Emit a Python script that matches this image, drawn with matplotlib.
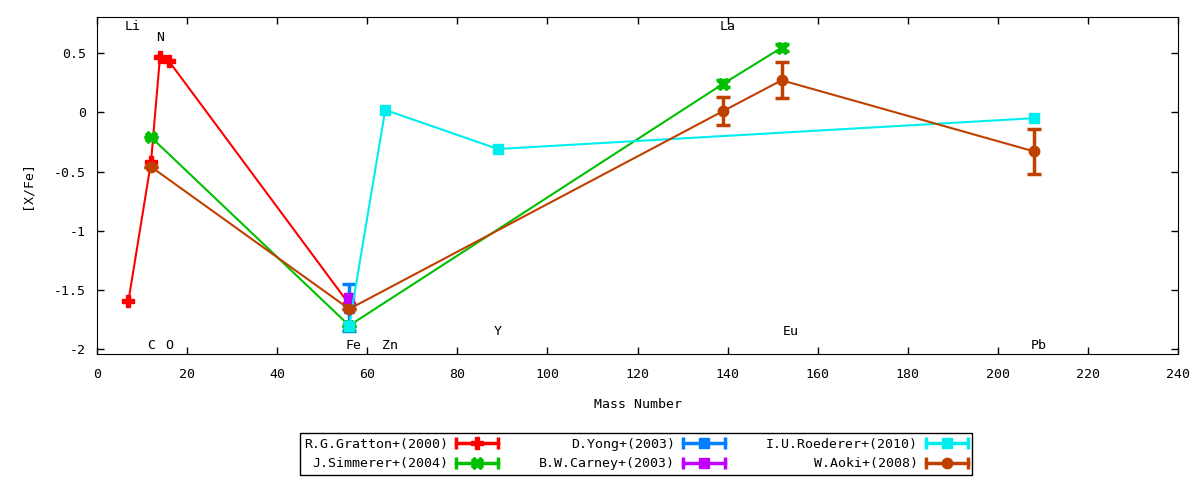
import matplotlib.pyplot as plt
from matplotlib.lines import Line2D
from matplotlib.legend_handler import HandlerBase

plt.rcParams['font.family'] = ['DejaVu Sans Mono']
plt.rcParams['font.size'] = 9.5

# mass number / [X/Fe] per reference
gratton_a = [7, 12, 14, 16, 56]
gratton_y = [-1.59, -0.42, 0.47, 0.43, -1.62]

simmerer_a = [12, 56, 139, 152]
simmerer_y = [-0.21, -1.80, 0.24, 0.545]
simmerer_err = [0.0, 0.0, 0.03, 0.03]

yong_a = [56]
yong_y = [-1.65]
yong_err = [0.2]

carney_a = [56]
carney_y = [-1.57]

roederer_a = [56, 64, 89, 208]
roederer_y = [-1.80, 0.02, -0.31, -0.05]

aoki_a = [12, 56, 139, 152, 208]
aoki_y = [-0.46, -1.66, 0.01, 0.27, -0.33]
aoki_err = [0.0, 0.0, 0.12, 0.15, 0.19]

elements = ['Li', 'N', 'C', 'O', 'Fe', 'Zn', 'Y', 'La', 'Eu', 'Pb']
elem_x = [8, 14, 12, 16, 57, 65, 89, 140, 154, 209]
elem_y = [0.725, 0.63, -1.965, -1.965, -1.965, -1.965, -1.85, 0.725, -1.85, -1.965]


class GnuHandler(HandlerBase):
    def create_artists(self, legend, orig, xd, yd, w, h, fontsize, trans):
        y = h / 2 - yd
        x0, x1 = -xd, -xd + w
        c = orig.get_color()
        line = Line2D([x0, x1], [y, y], color=c, lw=2.5)
        caps = Line2D([x0, x1], [y, y], ls='', marker='|', ms=8, mew=2.5, color=c)
        mark = Line2D([(x0 + x1) / 2], [y], ls='', marker=orig.get_marker(),
                      ms=orig.get_markersize(), mew=orig.get_markeredgewidth(), color=c)
        for a in (line, caps, mark):
            a.set_transform(trans)
        return [line, caps, mark]


fig = plt.figure(figsize=(12, 4.8), dpi=100)
ax = fig.add_axes([0.0808, 0.2625, 0.9009, 0.7021])

eb = dict(lw=1.5, capsize=5, elinewidth=2.5, capthick=2.5)

h1 = ax.errorbar(gratton_a, gratton_y, color='#ff0000', marker='P', ms=8, **eb)
h2 = ax.errorbar(simmerer_a, simmerer_y, yerr=simmerer_err, color='#00c000',
                 marker='X', ms=8, **eb)
h3 = ax.errorbar(yong_a, yong_y, yerr=yong_err, color='#0080ff', marker='s', ms=7.5, **eb)
h4 = ax.errorbar(carney_a, carney_y, color='#c000ff', marker='s', ms=7.5, **eb)
h5 = ax.errorbar(roederer_a, roederer_y, color='#00eeee', marker='s', ms=7.5, **eb)
h6 = ax.errorbar(aoki_a, aoki_y, yerr=aoki_err, color='#c04000', marker='o', ms=7.5, **eb)

for name, x, y in zip(elements, elem_x, elem_y):
    ax.text(x, y, name, ha='center', va='center')

ax.set_xlim(0, 240)
ax.set_ylim(-2.04, 0.804)
ax.set_xticks(range(0, 241, 20))
ax.set_yticks([-2, -1.5, -1, -0.5, 0, 0.5])
ax.set_yticklabels(['-2', '-1.5', '-1', '-0.5', '0', '0.5'])
ax.tick_params(direction='in', top=True, right=True, length=5, width=1)
ax.tick_params(axis='x', pad=10)
ax.tick_params(axis='y', pad=8)
ax.set_xlabel('Mass Number', labelpad=12)
ax.set_ylabel('[X/Fe]', labelpad=15)

labels = ['R.G.Gratton+(2000)', 'J.Simmerer+(2004)', 'D.Yong+(2003)',
          'B.W.Carney+(2003)', 'I.U.Roederer+(2010)', 'W.Aoki+(2008)']
handles = [h[0] for h in (h1, h2, h3, h4, h5, h6)]
leg = fig.legend(handles, labels, ncol=3, loc='center',
                 bbox_to_anchor=(293 / 1200, 0.0125, 686 / 1200, 0.0833), mode='expand',
                 markerfirst=False, handler_map={Line2D: GnuHandler()},
                 frameon=True, fancybox=False, edgecolor='black', framealpha=1,
                 handlelength=3.2, labelspacing=0.5,
                 borderpad=0.35, handletextpad=0.6)
leg.get_frame().set_linewidth(1)

fig.savefig('out.png', dpi=100)
